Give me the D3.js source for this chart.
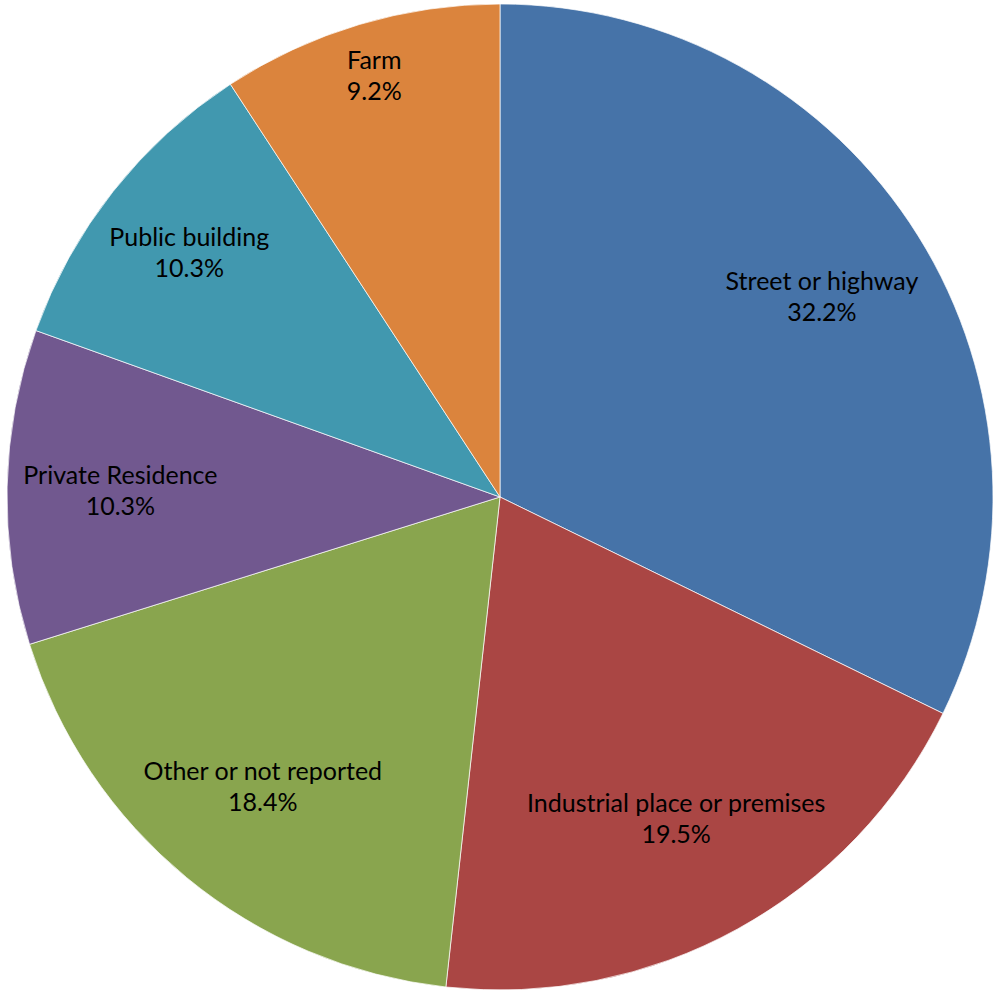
<!DOCTYPE html>
<html>
<head>
<meta charset="utf-8">
<script src="https://cdn.jsdelivr.net/npm/d3@7"></script>
<style>
  html, body { margin: 0; padding: 0; background: #fff; }
  svg { display: block; }
  .slice-label { font-family: Lato, "Open Sans", sans-serif; font-size: 25px; fill: #000; }
</style>
</head>
<body>
<svg id="chart" width="993" height="992"></svg>
<script>
(function () {
  'use strict';

  // share of cases by place of occurrence (%)
  var categories = ['Street or highway', 'Industrial place or premises', 'Other or not reported',
                    'Private Residence', 'Public building', 'Farm'];
  var shares     = [32.2, 19.5, 18.4, 10.3, 10.3, 9.2];
  var colors     = ['#4673A8', '#AA4644', '#89A54E', '#71588F', '#4198AF', '#DB843D'];

  var cx = 500, cy = 497, radius = 493;

  var svg = d3.select('#chart');
  var g = svg.append('g').attr('transform', 'translate(' + cx + ',' + cy + ')');

  var pie = d3.pie().sort(null).value(function (d) { return d.value; });
  var arc = d3.arc().innerRadius(0).outerRadius(radius);

  var data = categories.map(function (c, i) { return { name: c, value: shares[i], color: colors[i] }; });
  var arcs = pie(data);

  g.selectAll('path.slice')
    .data(arcs)
    .enter().append('path')
    .attr('class', 'slice')
    .attr('d', arc)
    .attr('fill', function (d) { return d.data.color; })
    .attr('stroke', '#fff')
    .attr('stroke-opacity', 0.7)
    .attr('stroke-width', 1);

  /* labels : pushed out along the mid-angle until the box corner reaches the rim */
  var rimR = radius * 0.97;

  var labels = g.selectAll('text.slice-label')
    .data(arcs)
    .enter().append('text')
    .attr('class', 'slice-label')
    .attr('text-anchor', 'middle');

  labels.append('tspan').attr('x', 0).attr('dy', 0).text(function (d) { return d.data.name; });
  labels.append('tspan').attr('x', 0).attr('dy', '1.24em')
    .text(function (d) { return d.data.value.toFixed(1) + '%'; });

  labels.each(function (d) {
    var bb = this.getBBox();
    var hw = bb.width / 2, hh = bb.height / 2;
    var mid = (d.startAngle + d.endAngle) / 2;
    var ux = Math.sin(mid), uy = -Math.cos(mid);
    var b = Math.abs(ux) * hw + Math.abs(uy) * hh;
    var c = hw * hw + hh * hh - rimR * rimR;
    var t = -b + Math.sqrt(b * b - c);
    var px = t * ux, py = t * uy;
    // shift text so that its bbox centre sits on (px, py)
    var ox = px - (bb.x + hw), oy = py - (bb.y + hh);
    d3.select(this).attr('transform', 'translate(' + ox + ',' + oy + ')');
  });
})();
</script>
</body>
</html>
